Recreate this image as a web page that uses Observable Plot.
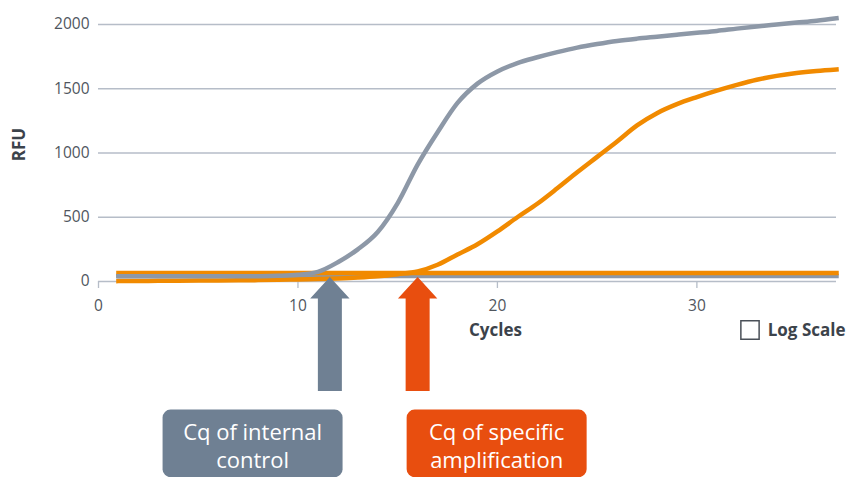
<!DOCTYPE html>
<html><head><meta charset="utf-8">
<script src="https://cdn.jsdelivr.net/npm/d3@7"></script>
<script src="https://cdn.jsdelivr.net/npm/@observablehq/plot@0.6"></script>
<style>
html,body{margin:0;padding:0;background:#fff;}
#chart{width:848px;height:477px;overflow:hidden}
</style></head><body><div id="chart"></div>
<script>
// ---- data ----
const cycles = [1,2,3,4,5,6,7,8,9,10,11,12,13,14,15,16,17,18,19,20,21,22,23,24,25,26,27,28,29,30,31,32,33,34,35,36,37];
const internalControl = [40,40,40,40,40,40,40,41,44,52,75,150,250,385,610,910,1162,1390,1540,1635,1700,1745,1785,1820,1848,1872,1890,1905,1920,1935,1950,1968,1985,2000,2015,2030,2048];
const specificAmp = [3,4,5,6,7,8,9,11,13,16,19,24,31,41,57,78,130,210,290,390,500,605,725,850,970,1090,1215,1310,1380,1435,1485,1530,1570,1600,1622,1638,1650];
const thresholdCycles = [1, 37];
const internalThreshold = 42;
const specificThreshold = 66;
const xTicks = [0, 10, 20, 30];
const yTicks = [0, 500, 1000, 1500, 2000];
const cqLabels = ["Cq of internal\ncontrol", "Cq of specific\namplification"];
const cqValues = [11.6, 16.0];
const arrowTip = 35;

const GREY_LINE = "#8d98a7";
const ORANGE_LINE = "#f18a00";
const GREY_NOTE = "#6f8093";
const ORANGE_NOTE = "#e84e0f";
const GRID = "#b6bdc8";

const ctrlData = cycles.map((c, i) => ({c, v: internalControl[i]}));
const specData = cycles.map((c, i) => ({c, v: specificAmp[i]}));
const ctrlThr = thresholdCycles.map(c => ({c, v: internalThreshold}));
const specThr = thresholdCycles.map(c => ({c, v: specificThreshold}));

// arrow shape (tip at top)
const arrowShape = {
  draw(ctx, l) {
    const hw = 19.7, sw = 12, hh = 21.6;
    ctx.moveTo(0, -l);
    ctx.lineTo(hw, -l + hh);
    ctx.lineTo(sw, -l + hh);
    ctx.lineTo(sw, 0);
    ctx.lineTo(-sw, 0);
    ctx.lineTo(-sw, -l + hh);
    ctx.lineTo(-hw, -l + hh);
    ctx.closePath();
  }
};
function roundedBox(x0, y0, x1, y1, rad) {
  return {draw(ctx) {
    ctx.moveTo(x0 + rad, y0);
    ctx.lineTo(x1 - rad, y0);
    ctx.arcTo(x1, y0, x1, y0 + rad, rad);
    ctx.lineTo(x1, y1 - rad);
    ctx.arcTo(x1, y1, x1 - rad, y1, rad);
    ctx.lineTo(x0 + rad, y1);
    ctx.arcTo(x0, y1, x0, y1 - rad, rad);
    ctx.lineTo(x0, y0 + rad);
    ctx.arcTo(x0, y0, x0 + rad, y0, rad);
    ctx.closePath();
  }};
}
const notes = [
  {label: cqLabels[0], cq: cqValues[0], color: GREY_NOTE, box: roundedBox(-167.3, 132.6, 12.7, 200.2, 8), tdx: -77.3},
  {label: cqLabels[1], cq: cqValues[1], color: ORANGE_NOTE, box: roundedBox(-11, 132.6, 169, 200.2, 8), tdx: 79}
];
const noteMarks = notes.flatMap(n => [
  Plot.vector([n], {x: "cq", y: () => arrowTip, length: 114, anchor: "end", shape: arrowShape, fill: n.color, stroke: "none"}),
  Plot.vector([n], {x: "cq", y: () => arrowTip, length: 1, anchor: "start", shape: n.box, fill: n.color, stroke: "none"}),
  Plot.text([n], {x: "cq", y: () => arrowTip, text: "label", dx: n.tdx, dy: 143, lineAnchor: "top", lineHeight: 1.28, fontSize: 22, fill: "white", textAnchor: "middle"})
]);

const chart = Plot.plot({
  width: 848,
  height: 477,
  marginLeft: 98,
  marginRight: 12,
  marginTop: 24,
  marginBottom: 196,
  style: {fontFamily: "'Open Sans', sans-serif", fontSize: "15px", background: "white", overflow: "visible"},
  x: {domain: [0, 37]},
  y: {domain: [0, 2000]},
  marks: [
    Plot.gridY(yTicks.filter(d => d > 0), {stroke: GRID, strokeOpacity: 1, strokeWidth: 1.3}),
    Plot.ruleY([0], {stroke: GRID, strokeWidth: 1.3}),
    Plot.axisY(yTicks, {tickSize: 0, tickPadding: 9, label: null, fontSize: 15.5, fill: "#50565e", tickFormat: d => String(d)}),
    Plot.axisX(xTicks, {tickSize: 7, tickPadding: 11, label: null, fontSize: 15.5, fill: "#50565e", stroke: GRID, strokeWidth: 1.3, tickFormat: d => String(d)}),
    Plot.line(ctrlThr, {x: "c", y: "v", stroke: GREY_LINE, strokeWidth: 4.5, strokeLinecap: "square"}),
    Plot.line(specThr, {x: "c", y: "v", stroke: ORANGE_LINE, strokeWidth: 4.5, strokeLinecap: "square"}),
    Plot.line(specData, {x: "c", y: "v", stroke: ORANGE_LINE, strokeWidth: 4.5, curve: "monotone-x", strokeLinecap: "square"}),
    Plot.line(ctrlData, {x: "c", y: "v", stroke: GREY_LINE, strokeWidth: 4.5, curve: "monotone-x", strokeLinecap: "square"}),
    Plot.text(["RFU"], {frameAnchor: "left", textAnchor: "middle", rotate: -90, dx: -79, dy: -8.5, fontWeight: 700, fontSize: 17, fill: "#3c434b"}),
    Plot.text(["Cycles"], {frameAnchor: "bottom", dx: 28, dy: 54, fontWeight: 700, fontSize: 17, fill: "#3c434b"}),
    Plot.dot([0], {frameAnchor: "bottom-right", symbol: "square", r: 10.3, dx: -86.5, dy: 48.5, stroke: "#4a5058", strokeWidth: 1.5, fill: "white"}),
    Plot.text(["Log Scale"], {frameAnchor: "bottom-right", textAnchor: "end", dx: 9, dy: 54, fontWeight: 700, fontSize: 17, fill: "#3c434b"}),
    ...noteMarks
  ]
});
document.getElementById("chart").appendChild(chart);
</script>
</body></html>
